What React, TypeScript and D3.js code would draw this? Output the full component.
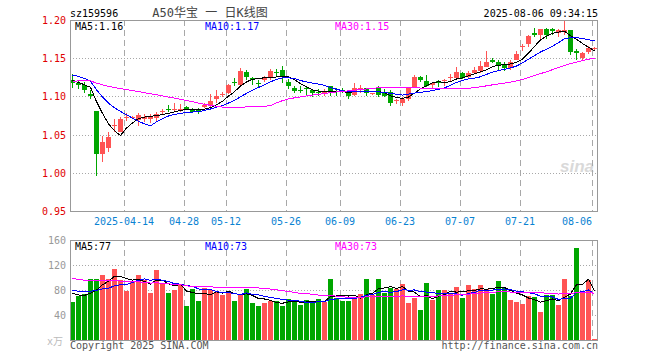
import * as d3 from 'd3'

// trading sessions shown (88 candles)
const DATES = [
  '03-31', '04-01', '04-02', '04-03', '04-07', '04-08', '04-09', '04-10', '04-11',
  '04-14', '04-15', '04-16', '04-17', '04-18', '04-21', '04-22', '04-23', '04-24', '04-25',
  '04-28', '04-29', '04-30', '05-06', '05-07', '05-08', '05-09',
  '05-12', '05-13', '05-14', '05-15', '05-16', '05-19', '05-20', '05-21', '05-22', '05-23',
  '05-26', '05-27', '05-28', '05-29', '05-30', '06-03', '06-04', '06-05', '06-06',
  '06-09', '06-10', '06-11', '06-12', '06-13', '06-16', '06-17', '06-18', '06-19', '06-20',
  '06-23', '06-24', '06-25', '06-26', '06-27', '06-30', '07-01', '07-02', '07-03', '07-04',
  '07-07', '07-08', '07-09', '07-10', '07-11', '07-14', '07-15', '07-16', '07-17', '07-18',
  '07-21', '07-22', '07-23', '07-24', '07-25', '07-28', '07-29', '07-30', '07-31', '08-01',
  '08-04', '08-05', '08-06',
]

const OPEN = [
  1.122, 1.117, 1.115, 1.103, 1.081, 1.024, 1.033, 1.062, 1.053, 1.072,
  1.072, 1.069, 1.071, 1.070, 1.072, 1.079, 1.084, 1.083, 1.083, 1.086,
  1.084, 1.082, 1.086, 1.089, 1.097, 1.102, 1.104, 1.119, 1.115, 1.132,
  1.124, 1.118, 1.121, 1.125, 1.132, 1.134, 1.119, 1.111, 1.108, 1.111,
  1.108, 1.106, 1.104, 1.113, 1.107, 1.108, 1.105, 1.102, 1.110, 1.111,
  1.103, 1.111, 1.104, 1.106, 1.094, 1.092, 1.097, 1.112, 1.125, 1.120,
  1.115, 1.120, 1.120, 1.125, 1.124, 1.130, 1.125, 1.131, 1.133, 1.139,
  1.147, 1.145, 1.141, 1.137, 1.148, 1.165, 1.168, 1.183, 1.181, 1.188,
  1.188, 1.183, 1.184, 1.187, 1.159, 1.150, 1.158, 1.162,
]
const HIGH = [
  1.129, 1.121, 1.119, 1.108, 1.081, 1.048, 1.053, 1.071, 1.073, 1.078,
  1.075, 1.078, 1.077, 1.077, 1.080, 1.084, 1.089, 1.091, 1.090, 1.087,
  1.085, 1.085, 1.091, 1.103, 1.108, 1.106, 1.116, 1.124, 1.137, 1.134,
  1.126, 1.121, 1.127, 1.136, 1.136, 1.140, 1.123, 1.114, 1.114, 1.114,
  1.110, 1.110, 1.110, 1.114, 1.111, 1.111, 1.108, 1.118, 1.115, 1.111,
  1.105, 1.114, 1.110, 1.108, 1.097, 1.099, 1.112, 1.128, 1.127, 1.128,
  1.119, 1.121, 1.123, 1.129, 1.139, 1.132, 1.133, 1.139, 1.146, 1.159,
  1.150, 1.148, 1.145, 1.147, 1.159, 1.168, 1.180, 1.189, 1.188, 1.189,
  1.189, 1.188, 1.200, 1.187, 1.162, 1.158, 1.166, 1.165,
]
const LOW = [
  1.111, 1.110, 1.105, 1.097, 0.996, 1.014, 1.027, 1.054, 1.053, 1.068,
  1.070, 1.061, 1.067, 1.065, 1.066, 1.077, 1.079, 1.079, 1.079, 1.082,
  1.078, 1.077, 1.085, 1.086, 1.092, 1.099, 1.103, 1.114, 1.114, 1.122,
  1.115, 1.112, 1.119, 1.121, 1.127, 1.118, 1.110, 1.105, 1.104, 1.102,
  1.099, 1.100, 1.101, 1.100, 1.101, 1.105, 1.097, 1.101, 1.105, 1.100,
  1.102, 1.099, 1.099, 1.088, 1.090, 1.088, 1.094, 1.111, 1.119, 1.112,
  1.111, 1.112, 1.114, 1.119, 1.122, 1.123, 1.124, 1.129, 1.131, 1.138,
  1.144, 1.133, 1.133, 1.135, 1.147, 1.160, 1.165, 1.178, 1.175, 1.175,
  1.180, 1.178, 1.180, 1.154, 1.148, 1.148, 1.156, 1.159,
]
const CLOSE = [
  1.117, 1.115, 1.109, 1.101, 1.024, 1.040, 1.047, 1.063, 1.070, 1.073,
  1.073, 1.076, 1.073, 1.075, 1.077, 1.081, 1.082, 1.084, 1.084, 1.083,
  1.080, 1.081, 1.089, 1.094, 1.101, 1.103, 1.115, 1.117, 1.133, 1.126,
  1.122, 1.117, 1.125, 1.133, 1.130, 1.126, 1.114, 1.107, 1.107, 1.110,
  1.105, 1.105, 1.106, 1.107, 1.106, 1.107, 1.100, 1.111, 1.111, 1.105,
  1.104, 1.102, 1.101, 1.092, 1.095, 1.097, 1.111, 1.126, 1.121, 1.114,
  1.117, 1.118, 1.121, 1.126, 1.132, 1.124, 1.131, 1.134, 1.140, 1.145,
  1.145, 1.140, 1.137, 1.145, 1.156, 1.166, 1.179, 1.181, 1.188, 1.180,
  1.185, 1.187, 1.187, 1.158, 1.157, 1.157, 1.163, 1.163,
]
// volume, 万
const VOLUME = [
  61, 70, 73, 97, 98, 104, 97, 114, 96, 79,
  93, 104, 96, 75, 112, 91, 75, 80, 89, 55,
  82, 63, 83, 80, 77, 72, 79, 63, 73, 82,
  59, 55, 59, 62, 63, 55, 66, 63, 56, 64,
  59, 66, 61, 98, 68, 63, 62, 67, 74, 98,
  72, 98, 75, 84, 82, 90, 59, 68, 48, 91,
  64, 80, 80, 74, 85, 67, 88, 82, 88, 81,
  74, 94, 83, 64, 61, 58, 70, 69, 45, 72,
  72, 56, 98, 70, 147, 75, 96, 2,
]

// 29 sessions before the window: not drawn, only feed the moving averages
// (estimated from where the MA lines start)
const PRE_CLOSE = [
  1.101, 1.104, 1.106, 1.108, 1.107, 1.110, 1.109, 1.112, 1.111, 1.114, 1.113, 1.116,
  1.115, 1.120, 1.124, 1.128, 1.126, 1.130, 1.128, 1.131,
  1.133, 1.136, 1.138, 1.135, 1.134,
  1.128, 1.124, 1.118, 1.117,
]
const PRE_VOLUME = [
  120, 112, 98, 105, 130, 101, 95, 118, 110, 104, 99, 125, 108, 96, 115, 103, 110, 100, 112, 99,
  92, 80, 88, 83, 82,
  85, 76, 80, 73,
]

const TICK_DATES = ['04-14', '04-28', '05-12', '05-26', '06-09', '06-23', '07-07', '07-21', '08-06']
const TICK_TEXT = ['2025-04-14', '04-28', '05-12', '05-26', '06-09', '06-23', '07-07', '07-21', '08-06']
const PRICE_TICKS = [0.95, 1.0, 1.05, 1.1, 1.15, 1.2]
const VOL_TICKS = [40, 80, 120, 160]
const MA_PERIODS = [5, 10, 30]
const MA_COLORS = ['#000000', '#0000ff', '#ff00ff']
const PRICE_MA_TEXT = ['1.16', '1.17', '1.15']
const VOL_MA_TEXT = ['77', '73', '73']

const RED = '#ff5454'
const GREEN = '#00a600'
const GRID = '#a8a8a8'
const FONT = '"DejaVu Sans Mono", "Noto Sans CJK SC", monospace'

const LEFT = 70
const RIGHT = 598
const P_TOP = 20
const P_BOT = 211
const V_TOP = 240
const V_BOT = 340

function movingAvg(pre: number[], values: number[], n: number) {
  const all = pre.concat(values)
  return values.map((_, i) => d3.mean(all.slice(pre.length + i - n + 1, pre.length + i + 1)) as number)
}

export default function App() {
  const x = d3.scaleBand<string>().domain(DATES).range([LEFT, RIGHT])
  const yP = d3.scaleLinear().domain([0.95, 1.2]).range([P_BOT, P_TOP])
  const yV = d3.scaleLinear().domain([0, 160]).range([V_BOT, V_TOP])
  const cx = (i: number) => (x(DATES[i]) as number) + 2.5

  const priceMA = MA_PERIODS.map((n) => movingAvg(PRE_CLOSE, CLOSE, n))
  const volMA = MA_PERIODS.map((n) => movingAvg(PRE_VOLUME, VOLUME, n))

  const lineP = d3.line<number>().x((_, i) => cx(i)).y((v) => yP(v))
  const lineV = d3.line<number>().x((_, i) => cx(i)).y((v) => yV(v))

  const r = Math.round

  return (
    <svg
      width={660}
      height={360}
      style={{ position: 'absolute', left: 0, top: 0, background: '#fff' }}
      fontFamily={FONT}
    >
      <rect width={660} height={360} fill="#fff" />

      {/* header */}
      <text x={70} y={17} fontSize={10} fill="#000">sz159596</text>
      <text x={210} y={17} fontSize={12} fill="#444" textAnchor="middle">A50华宝 一 日K线图</text>
      <text x={598} y={17} fontSize={10} fill="#000" textAnchor="end">2025-08-06 09:34:15</text>

      {/* watermark */}
      <text x={577} y={172} fontSize={17} fontStyle="italic" fontWeight="bold"
        fontFamily='"Liberation Sans", Arial, sans-serif' fill="#d9d9d9" textAnchor="middle">sina</text>

      {/* horizontal dotted grid */}
      {PRICE_TICKS.filter((t) => t > 0.95 && t < 1.2).map((t) => (
        <line key={'pg' + t} x1={LEFT} x2={RIGHT} y1={r(yP(t)) + 0.5} y2={r(yP(t)) + 0.5}
          stroke={GRID} strokeDasharray="1,2" />
      ))}
      {VOL_TICKS.filter((t) => t < 160).map((t) => (
        <line key={'vg' + t} x1={LEFT} x2={RIGHT} y1={r(yV(t)) + 0.5} y2={r(yV(t)) + 0.5}
          stroke={GRID} strokeDasharray="1,2" />
      ))}

      {/* vertical dashed grid */}
      {TICK_DATES.map((d) => (
        <g key={'vd' + d}>
          <line x1={(x(d) as number) + 0.5} x2={(x(d) as number) + 0.5} y1={P_TOP} y2={P_BOT}
            stroke={GRID} strokeDasharray="6,4" />
          <line x1={(x(d) as number) + 0.5} x2={(x(d) as number) + 0.5} y1={V_TOP} y2={V_BOT}
            stroke={GRID} strokeDasharray="6,4" />
        </g>
      ))}

      {/* candles */}
      <g shapeRendering="crispEdges">
        {DATES.map((d, i) => {
          const up = CLOSE[i] >= OPEN[i]
          const col = up ? RED : GREEN
          const top = r(yP(Math.max(OPEN[i], CLOSE[i])))
          const bot = r(yP(Math.min(OPEN[i], CLOSE[i])))
          const hi = r(yP(HIGH[i]))
          const lo = r(yP(LOW[i]))
          const bx = x(d) as number
          return (
            <g key={d}>
              <rect x={bx + 2} y={hi} width={1} height={Math.max(1, lo - hi)} fill={col} />
              <rect x={bx} y={top} width={5} height={Math.max(1, bot - top)} fill={col} />
            </g>
          )
        })}
      </g>

      {/* volume bars */}
      <g shapeRendering="crispEdges">
        {DATES.map((d, i) => {
          const up = CLOSE[i] >= OPEN[i]
          const top = r(yV(VOLUME[i]))
          return (
            <rect key={'v' + d} x={x(d) as number} y={top} width={5}
              height={Math.max(1, V_BOT - top)} fill={up ? RED : GREEN} />
          )
        })}
      </g>

      {/* moving averages, aliased like the original */}
      <g shapeRendering="crispEdges" fill="none" strokeWidth={1}>
        {priceMA.map((s, k) => (
          <path key={'pm' + k} d={lineP(s) as string} stroke={MA_COLORS[k]} />
        ))}
        {volMA.map((s, k) => (
          <path key={'vm' + k} d={lineV(s) as string} stroke={MA_COLORS[k]} />
        ))}
      </g>

      {/* frames */}
      <g shapeRendering="crispEdges" fill="none" stroke="#999">
        <rect x={LEFT + 0.5} y={P_TOP + 0.5} width={RIGHT - LEFT - 1} height={P_BOT - P_TOP} />
        <rect x={LEFT + 0.5} y={V_TOP + 0.5} width={RIGHT - LEFT - 1} height={V_BOT - V_TOP} />
      </g>

      {/* legends */}
      {MA_PERIODS.map((n, k) => (
        <g key={'lg' + n} fontSize={10} fill={MA_COLORS[k]}>
          <text x={75 + 130 * k} y={30}>{`MA${n}:${PRICE_MA_TEXT[k]}`}</text>
          <text x={75 + 130 * k} y={250}>{`MA${n}:${VOL_MA_TEXT[k]}`}</text>
        </g>
      ))}

      {/* price axis */}
      {PRICE_TICKS.map((t) => (
        <text key={'pl' + t} x={66} y={yP(t) + 4} fontSize={10} fill="#e00000" textAnchor="end">
          {t.toFixed(2)}
        </text>
      ))}
      {/* volume axis */}
      {VOL_TICKS.map((t) => (
        <text key={'vl' + t} x={66} y={yV(t) + 4} fontSize={10} fill="#999" textAnchor="end">{t}</text>
      ))}
      <text x={63} y={345} fontSize={10} fill="#bbb" textAnchor="end">x万</text>

      {/* date axis */}
      {TICK_DATES.map((d, k) => {
        const gx = x(d) as number
        const last = k === TICK_DATES.length - 1
        return (
          <text key={'dl' + d} x={gx} y={225} fontSize={10} fill="#0a82d2"
            textAnchor={last ? 'end' : 'middle'}>{TICK_TEXT[k]}</text>
        )
      })}

      {/* footer */}
      <text x={70} y={349} fontSize={10} fill="#555">Copyright 2025 SINA.COM</text>
      <text x={598} y={349} fontSize={10} fill="#555" textAnchor="end">http://finance.sina.com.cn</text>
    </svg>
  )
}
